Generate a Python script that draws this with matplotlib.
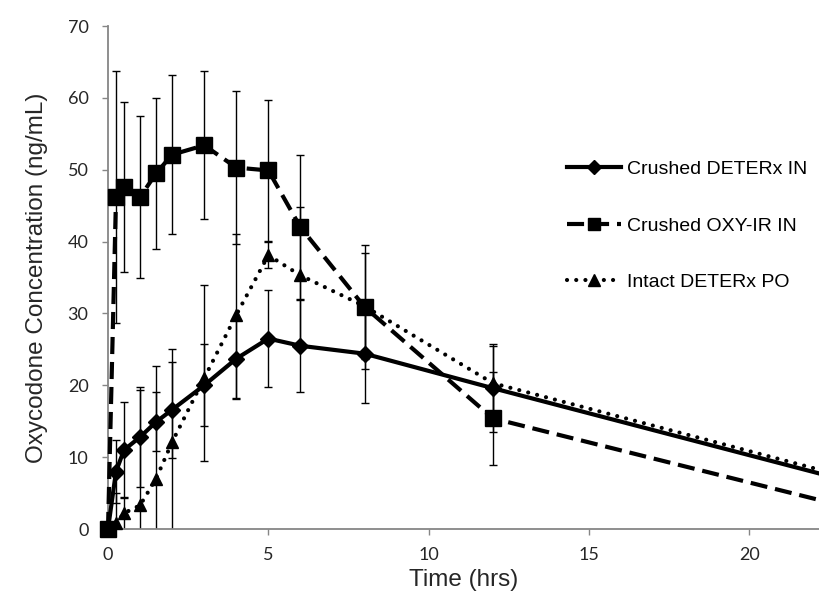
import matplotlib
matplotlib.use("Agg")
import matplotlib.pyplot as plt
from matplotlib.lines import Line2D

# time points (hrs); the 24 h point lies past the cropped right edge
time_hrs = [0, 0.25, 0.5, 1, 1.5, 2, 3, 4, 5, 6, 8, 12, 24]

# Crushed DETERx IN (diamonds, solid)
deterx_in = [0, 8.0, 11.0, 12.8, 14.9, 16.6, 20.0, 23.7, 26.5, 25.5, 24.4, 19.6, 5.6]
deterx_in_err = [0, 4.4, 6.7, 6.9, 4.1, 6.7, 5.7, 5.6, 6.8, 6.4, 6.9, 6.1, 0]

# Crushed OXY-IR IN (squares, dashed)
oxyir_in = [0, 46.2, 47.6, 46.2, 49.5, 52.1, 53.4, 50.3, 49.9, 42.0, 30.9, 15.4, 2.0]
oxyir_in_err = [0, 17.5, 11.8, 11.3, 10.5, 11.1, 10.3, 10.7, 9.8, 10.0, 8.6, 6.5, 0]

# Intact DETERx PO (triangles, dotted)
deterx_po = [0, 0.8, 2.2, 3.3, 7.0, 12.1, 21.0, 29.8, 38.1, 35.3, 31.0, 20.3, 6.1]
deterx_po_err_lo = [0, 4.2, 2.3, 16.0, 15.7, 12.9, 11.5, 11.6, 1.8, 9.5, 7.4, 5.1, 0]
deterx_po_err_hi = [0, 4.2, 2.3, 16.0, 15.7, 12.9, 12.9, 11.3, 1.8, 9.5, 7.4, 5.1, 0]

labels = ["Crushed DETERx IN", "Crushed OXY-IR IN", "Intact DETERx PO"]

fig = plt.figure(figsize=(8.2, 6.01), dpi=100)
ax = fig.add_axes([0.1317, 0.1198, 0.8683, 0.8369])

dash = (0, (4.1, 1.9))
dots = (0, (0.01, 2.2))
ebkw = dict(fmt="none", ecolor="black", elinewidth=1.0, capsize=3.2, capthick=1.0)

# error bars first (clipped at y=0), then lines and markers on top
ax.errorbar(time_hrs, deterx_po, yerr=[deterx_po_err_lo, deterx_po_err_hi], **ebkw)
ax.errorbar(time_hrs, deterx_in, yerr=deterx_in_err, **ebkw)
ax.errorbar(time_hrs, oxyir_in, yerr=oxyir_in_err, **ebkw)

ax.plot(time_hrs, deterx_po, color="black", lw=3, linestyle=dots, dash_capstyle="round",
        marker="^", markersize=9, clip_on=False, zorder=3)
ax.plot(time_hrs, deterx_in, color="black", lw=3, linestyle="-",
        marker="D", markersize=8.5, clip_on=False, zorder=4)
ax.plot(time_hrs, oxyir_in, color="black", lw=3, linestyle=dash, dash_capstyle="butt",
        marker="s", markersize=11.5, clip_on=False, zorder=5)

ax.set_xlim(0, 22.2)
ax.set_ylim(0, 70)
ax.set_xticks([0, 5, 10, 15, 20])
ax.set_yticks(range(0, 71, 10))

for s in ["top", "right"]:
    ax.spines[s].set_visible(False)
for s in ["left", "bottom"]:
    ax.spines[s].set_color("#868686")
    ax.spines[s].set_linewidth(1.3)
ax.tick_params(colors="#868686", labelcolor="#262626", length=4, width=1,
               labelsize=13, direction="out")
for lab in ax.get_xticklabels() + ax.get_yticklabels():
    lab.set_fontfamily("Lato")
ax.tick_params(axis="x", pad=9)
ax.tick_params(axis="y", pad=10)

ax.set_xlabel("Time (hrs)", fontsize=17.5, fontfamily="Liberation Sans", color="#262626", labelpad=4)
ax.set_ylabel("Oxycodone Concentration (ng/mL)", fontsize=17.5, fontfamily="Liberation Sans",
              color="#262626", labelpad=14)

handles = [
    Line2D([], [], color="black", lw=3, marker="D", markersize=7.5),
    Line2D([], [], color="black", lw=3, linestyle=dash, marker="s", markersize=9),
    Line2D([], [], color="black", lw=3, linestyle=dots, dash_capstyle="round", marker="^", markersize=8),
]
ax.legend(handles, labels, loc="upper left", bbox_to_anchor=(0.631, 0.752), frameon=False,
          prop={"family": "Liberation Sans", "size": 14}, handlelength=2.8, handletextpad=0.3,
          labelspacing=2.0, borderpad=0)

fig.savefig("out.png", dpi=100)
